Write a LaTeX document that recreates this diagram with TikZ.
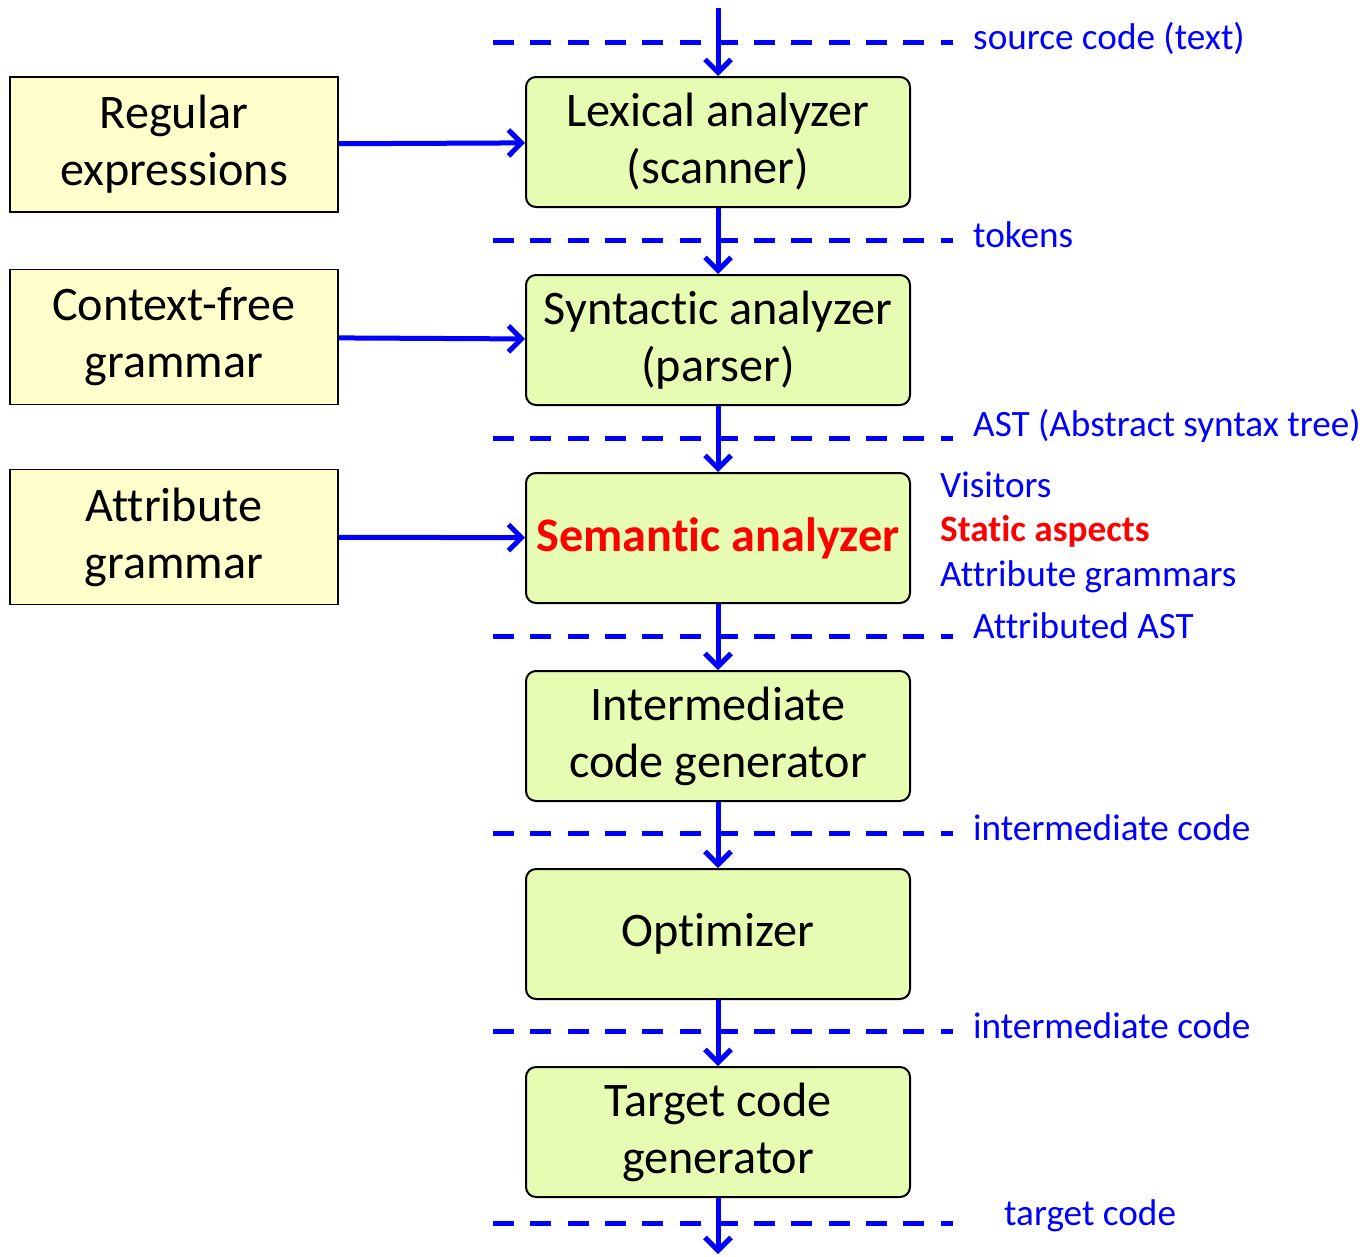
\documentclass[tikz,border=0pt]{standalone}
\usepackage{fontspec}
\setmainfont{Carlito}[Ligatures={NoCommon}]
\usetikzlibrary{arrows.meta,positioning}

\definecolor{stagefill}{HTML}{E6FCB3}
\definecolor{specfill}{HTML}{FFFFCC}

\begin{document}
\begin{tikzpicture}[x=1pt,y=-1pt,
    stage/.style={draw=black, line width=2pt, rounded corners=10pt, fill=stagefill,
        minimum width=384pt, minimum height=130pt, inner sep=0pt, align=center,
        font=\fontsize{48.2}{57}\selectfont},
    spec/.style={draw=black, line width=1.5pt, fill=specfill,
        minimum width=328pt, minimum height=135pt, inner sep=0pt, align=center,
        font=\fontsize{48.2}{57}\selectfont},
    flow/.style={draw=blue, line width=5pt, -{Straight Barb[length=13pt,width=26pt]}},
    sep/.style={draw=blue, line width=5pt, dash pattern=on 21pt off 16.3pt},
    lbl/.style={anchor=west, inner sep=0pt, text=blue, align=left,
        font=\fontsize{37.2}{44.5}\selectfont}]
\useasboundingbox (0,0) rectangle (1362,1256);

% separators between the phases
\foreach \y in {42,240,438,636,833,1031,1223}
    \draw[sep] (493,\y) -- (953,\y);

% phases
\node[stage] at (718,142) (lex) {Lexical analyzer\\(scanner)};
\node[stage, below=66pt of lex] (syn) {Syntactic analyzer\\(parser)};
\node[stage, below=66pt of syn] (sem) {\textcolor{red}{\bfseries Semantic analyzer}};
\node[stage, below=66pt of sem] (icg) {Intermediate\\code generator};
\node[stage, below=66pt of icg] (opt) {Optimizer};
\node[stage, below=66pt of opt] (tcg) {Target code\\generator};

% formalisms
\node[spec] at (174,144.5) (regex) {Regular\\expressions};
\node[spec] at (174,337) (cfg) {Context-free\\grammar};
\node[spec] at (174,537) (ag) {Attribute\\grammar};

% what flows between phases
\node[lbl] at (973,38) (src) {source code (text)};
\node[lbl] at (973,235) (tok) {tokens};
\node[lbl] at (973,426) (ast) {AST (Abstract syntax tree)};
\node[lbl] at (940,532) (aspects) {Visitors\\\textcolor{red}{\bfseries Static aspects}\\Attribute grammars};
\node[lbl] at (973,626) (aast) {Attributed AST};
\node[lbl] at (973,828) (ic1) {intermediate code};
\node[lbl] at (973,1026) (ic2) {intermediate code};
\node[lbl] at (1004,1216) (tc) {target code};

\coordinate (in) at (718,8);
\coordinate (out) at (718,1254);

\draw[flow] (in) -- (lex);
\draw[flow] (lex) -- (syn);
\draw[flow] (syn) -- (sem);
\draw[flow] (sem) -- (icg);
\draw[flow] (icg) -- (opt);
\draw[flow] (opt) -- (tcg);
\draw[flow] (tcg) -- (out);

\draw[flow] (regex) -- (lex);
\draw[flow] (cfg) -- (syn);
\draw[flow] (ag) -- (sem);
\end{tikzpicture}
\end{document}
